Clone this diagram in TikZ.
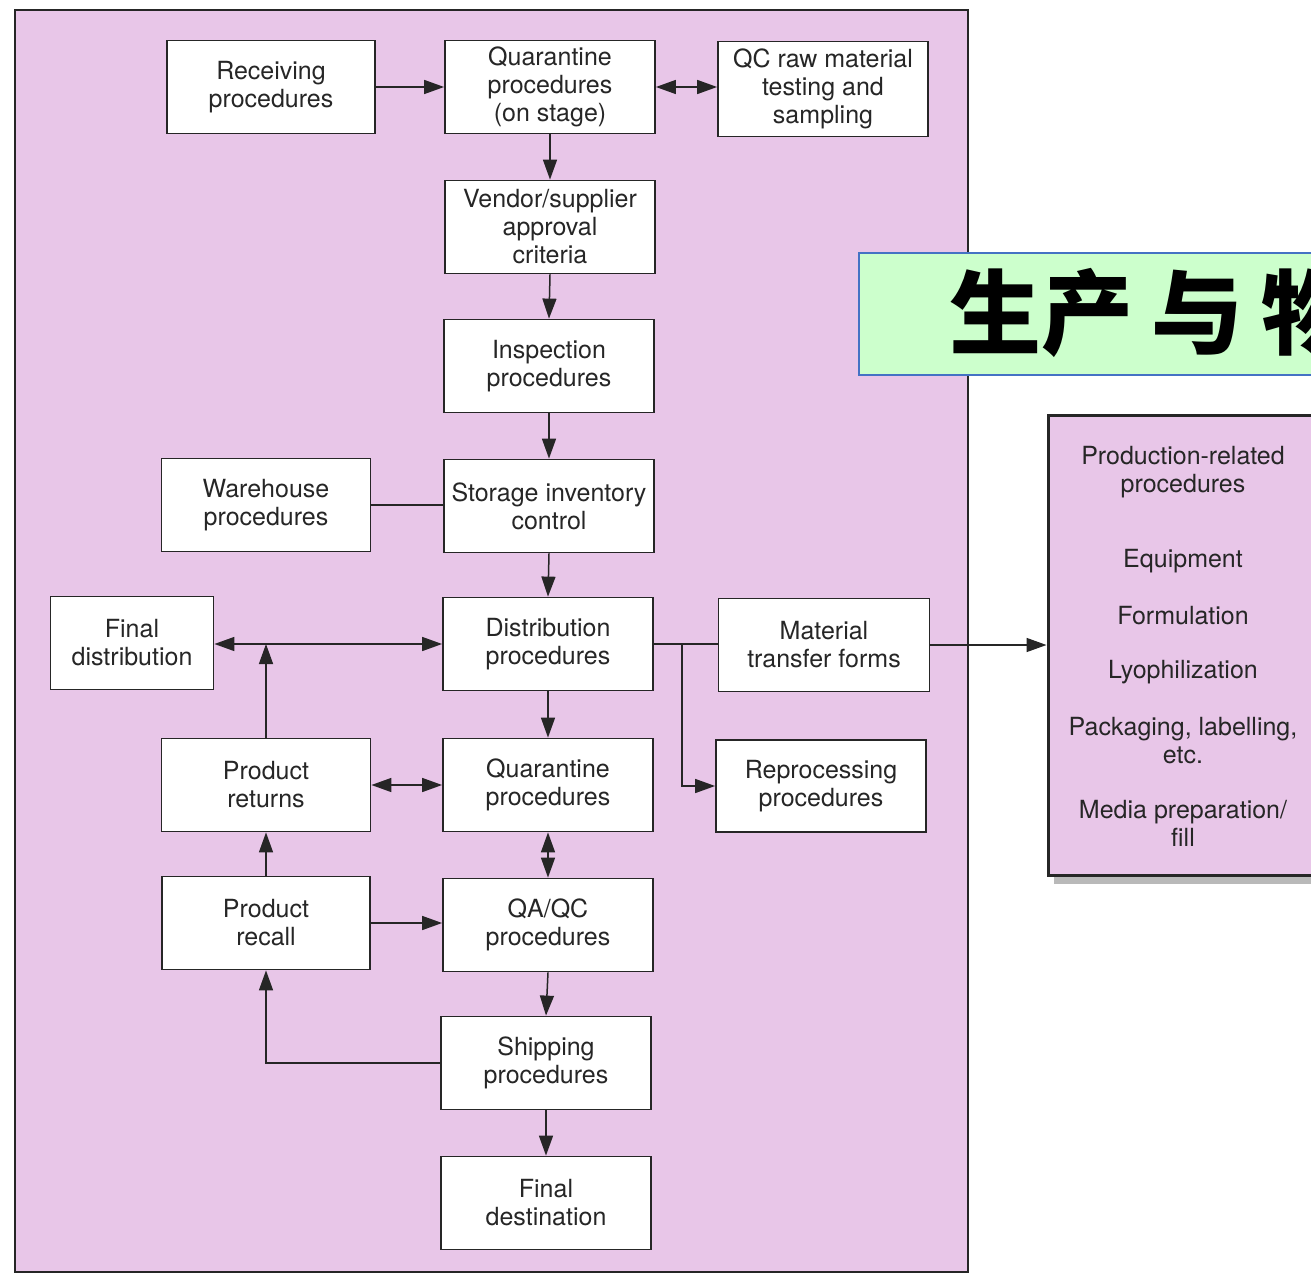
\documentclass[tikz,border=0pt]{standalone}
\usepackage{fontspec}
\setmainfont{TeX Gyre Heros}
\newfontfamily\cjk{Noto Sans CJK SC}
\usetikzlibrary{arrows.meta}
\definecolor{panel}{RGB}{232,198,232}
\definecolor{ink}{RGB}{38,38,38}
\definecolor{titlefill}{RGB}{204,255,204}
\definecolor{titleedge}{RGB}{68,114,196}
\begin{document}
\begin{tikzpicture}[x=1pt,y=-1pt,
  box/.style={draw=ink, line width=1.8pt, fill=white, minimum width=210pt,
    minimum height=93pt, align=center, inner sep=0pt,
    font=\fontsize{25}{28}\selectfont, text=ink},
  item/.style={align=center, inner sep=0pt, font=\fontsize{25}{28}\selectfont, text=ink},
  link/.style={draw=ink, line width=1.5pt},
  arr/.style={link, -{Triangle[length=20pt,width=14pt]}},
  darr/.style={link, {Triangle[length=20pt,width=14pt]}-{Triangle[length=20pt,width=14pt]}}]
\useasboundingbox (0,0) rectangle (1311,1276);
\clip (0,0) rectangle (1311,1276);
\fill[white] (0,0) rectangle (1311,1276);

% flowchart panel
\draw[ink, line width=1.2pt, fill=panel] (15,10) rectangle (968,1272);

% process boxes
\node[box, minimum width=208pt] (rec) at (271,87) {Receiving\\procedures};
\node[box] (qos) at (550,87) {Quarantine\\procedures\\(on stage)};
\node[box, minimum height=95pt] (qcr) at (823,89) {QC raw material\\testing and\\sampling};
\node[box] (ven) at (550,227) {Vendor/supplier\\approval\\criteria};
\node[box] (ins) at (549,366) {Inspection\\procedures};
\node[box, minimum width=209pt] (war) at (266,505) {Warehouse\\procedures};
\node[box] (sto) at (549,506) {Storage inventory\\control};
\node[box, minimum width=163pt] (fdi) at (132,643) {Final\\distribution};
\node[box] (dis) at (548,644) {Distribution\\procedures};
\node[box, minimum width=211pt] (mtf) at (824,645) {Material\\transfer forms};
\node[box, minimum width=209pt] (ret) at (266,785) {Product\\returns};
\node[box] (qua) at (548,785) {Quarantine\\procedures};
\node[box, minimum height=92pt] (rep) at (821,786) {Reprocessing\\procedures};
\node[box, minimum width=208pt] (rcl) at (266,923) {Product\\recall};
\node[box] (qaq) at (548,925) {QA/QC\\procedures};
\node[box] (shp) at (546,1063) {Shipping\\procedures};
\node[box] (fde) at (546,1203) {Final\\destination};

% production-related procedures
\fill[gray!55] (1054,874) rectangle (1330,884);
\node[draw=ink, line width=3pt, fill=panel, minimum width=272pt, minimum height=460pt,
  inner sep=0pt] (prod) at (1184,645) {};
\node[item] (p1) at (1183,472) {Production-related\\procedures};
\node[item] (p2) at (1183,561) {Equipment};
\node[item] (p3) at (1183,616) {Formulation};
\node[item] (p4) at (1183,672) {Lyophilization};
\node[item] (p5) at (1183,741) {Packaging, labelling,\\etc.};
\node[item] (p6) at (1183,823) {Media preparation/\\fill};

% title banner
\node[draw=titleedge, line width=1.5pt, fill=titlefill, minimum width=480pt,
  minimum height=122pt, anchor=north west, inner sep=0pt] (title) at (858,252) {};
\node[anchor=west, inner sep=0pt, font=\cjk\bfseries\fontsize{92}{92}\selectfont]
  (ttext) at (949,313) {生产\hspace{18pt}与\hspace{18pt}物};

% connectors
\draw[arr] (rec.east) -- (qos.west);
\draw[darr] (qos.east) -- (qos.east -| qcr.west);
\draw[arr] (qos.south) -- (ven.north);
\draw[arr] (ven.south) -- (ins.north);
\draw[arr] (ins.south) -- (sto.north);
\draw[link] (war.east) -- (war.east -| sto.west);
\draw[arr] (sto.south) -- (dis.north);
\draw[darr] (dis.west) -- (dis.west -| fdi.east);
\draw[arr] (ret.north) -- (ret.north |- dis.west);
\draw[link] (dis.east) -- (dis.east -| mtf.west);
\coordinate (br) at (682,644);
\draw[arr] (br) |- (rep.west);
\draw[arr] (mtf.east) -- (mtf.east -| prod.west);
\draw[arr] (dis.south) -- (qua.north);
\draw[darr] (ret.east) -- (ret.east -| qua.west);
\draw[darr] (qua.south) -- (qaq.north);
\draw[arr] (rcl.north) -- (ret.south);
\draw[arr] (rcl.east) -- (rcl.east -| qaq.west);
\draw[arr] (qaq.south) -- (shp.north);
\draw[arr] (shp.west) -| (rcl.south);
\draw[arr] (shp.south) -- (fde.north);
\end{tikzpicture}
\end{document}
